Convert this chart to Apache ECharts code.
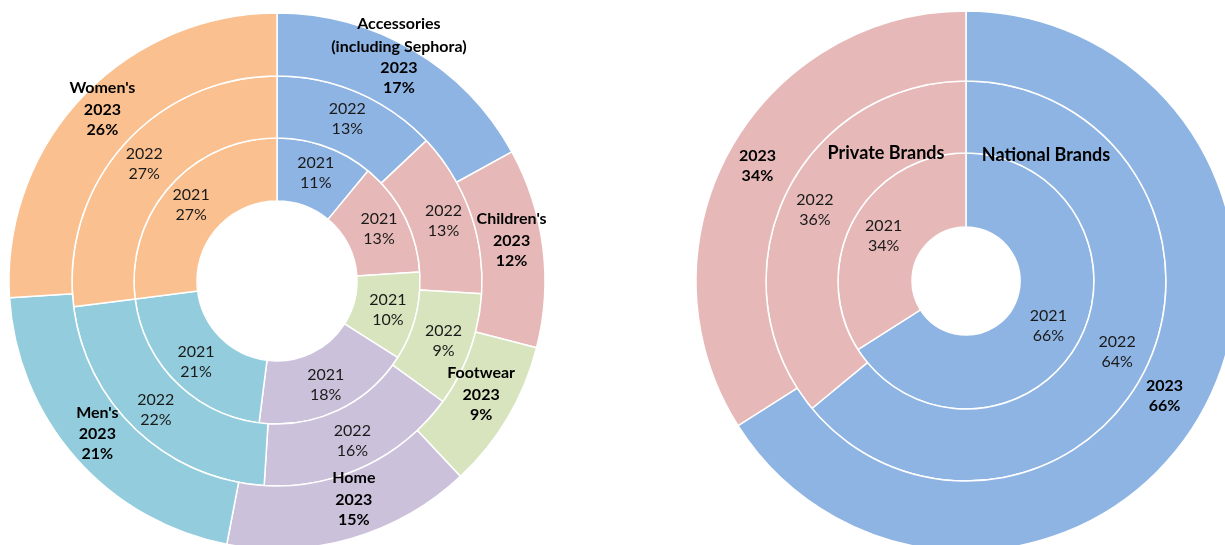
<!DOCTYPE html>
<html>
<head>
<meta charset="utf-8">
<script src="https://cdn.jsdelivr.net/npm/echarts@6/dist/echarts.min.js"></script>
<style>
  html, body { margin: 0; padding: 0; background: #fff; }
  #main { width: 1225px; height: 545px; }
</style>
</head>
<body>
<div id="main"></div>
<script>
// category mix by year (share of net sales, %)
const categories = ["Accessories\n(including Sephora)", "Children's", "Footwear", "Home", "Men's", "Women's"];
const cat2021 = [11, 13, 10, 18, 21, 27];
const cat2022 = [13, 13, 9, 16, 22, 27];
const cat2023 = [17, 12, 9, 15, 21, 26];

// brand mix by year (%)
const brands = ["National Brands", "Private Brands"];
const brand2021 = [66, 34];
const brand2022 = [64, 36];
const brand2023 = [66, 34];

const years = ["2021", "2022", "2023"];

const catColors = ["#8eb4e3", "#e6b9b8", "#d7e4bd", "#ccc1da", "#93cddd", "#fac090"];
const brandColors = ["#8eb4e3", "#e6b9b8"];
// hand-moved outer labels, like in the original
const outerOffsets = [[0, -20], [-3, -12], [-2, -10], [10, -13], [0, -7], [0, -9]];

const FONT = "Lato";
const FS = 16;

function toData(names, values, colors, offsets) {
  return values.map((v, i) => {
    const d = { name: names[i], value: v, itemStyle: { color: colors[i] } };
    if (offsets) d.label = { offset: offsets[i] };
    return d;
  });
}

function ring(center, radius, names, values, colors, year, outer, showName, offsets) {
  return {
    type: "pie",
    center: center,
    radius: radius,
    startAngle: 90,
    clockwise: true,
    avoidLabelOverlap: false,
    silent: true,
    animation: false,
    itemStyle: { borderColor: "#fff", borderWidth: 1.5 },
    label: {
      show: true,
      position: "inside",
      fontFamily: FONT,
      fontSize: FS,
      color: "#1a1a1a",
      lineHeight: 20,
      formatter: (p) => {
        if (!outer) return year + "\n" + p.value + "%";
        let s = "";
        if (showName) s = p.name.split("\n").map(n => "{n|" + n + "}").join("\n") + "\n";
        return s + "{b|" + year + "}\n{b|" + p.value + "%}";
      },
      rich: {
        n: { fontFamily: FONT, fontSize: FS, fontWeight: "bold", color: "#000", lineHeight: 23 },
        b: { fontFamily: FONT, fontSize: FS, fontWeight: "bold", color: "#000", lineHeight: 20 }
      }
    },
    labelLine: { show: false },
    emphasis: { disabled: true },
    data: toData(names, values, colors, offsets)
  };
}

const leftC = [277, 281];
const rightC = [966, 281];

const myChart = echarts.init(document.getElementById("main"));
myChart.setOption({
  animation: false,
  series: [
    ring(leftC, [80, 143], categories, cat2021, catColors, years[0], false),
    ring(leftC, [143, 205], categories, cat2022, catColors, years[1], false),
    ring(leftC, [205, 268], categories, cat2023, catColors, years[2], true, true, outerOffsets),
    ring(rightC, [54, 128], brands, brand2021, brandColors, years[0], false),
    ring(rightC, [128, 200], brands, brand2022, brandColors, years[1], false),
    ring(rightC, [200, 270], brands, brand2023, brandColors, years[2], true, false, [[-10, 0], [0, 0]])
  ],
  graphic: [
    { type: "text", z: 100, x: 886, y: 153, style: { text: brands[1], font: "bold 18px " + FONT, fill: "#000", align: "center", verticalAlign: "middle" } },
    { type: "text", z: 100, x: 1046, y: 155, style: { text: brands[0], font: "bold 18px " + FONT, fill: "#000", align: "center", verticalAlign: "middle" } }
  ]
});
</script>
</body>
</html>
